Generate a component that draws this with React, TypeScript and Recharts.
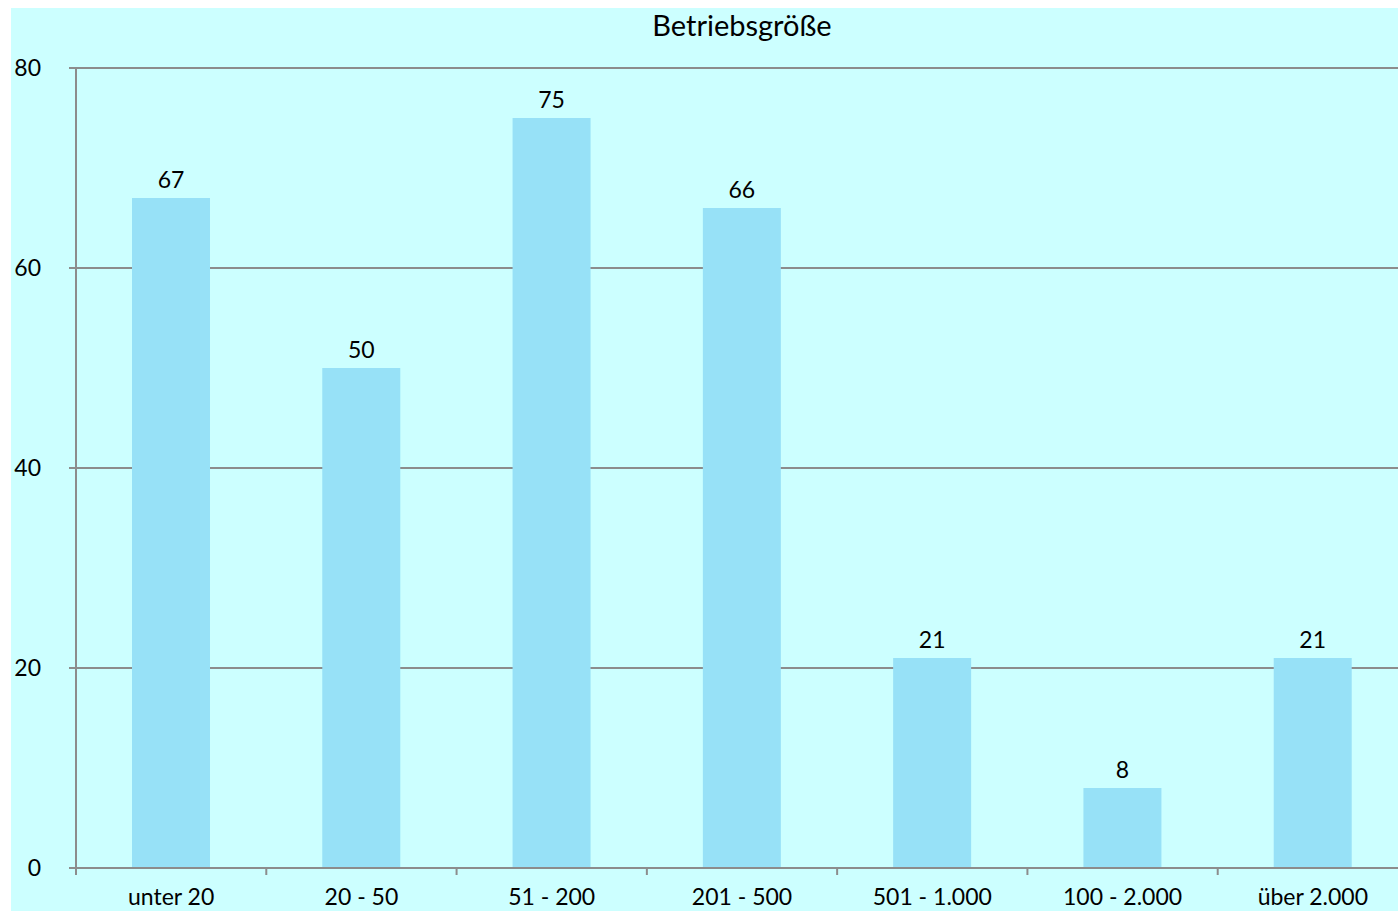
import { BarChart, Bar, XAxis, YAxis, CartesianGrid, LabelList } from 'recharts';

const categories = ['unter 20', '20 - 50', '51 - 200', '201 - 500', '501 - 1.000', '100 - 2.000', 'über 2.000'];
const counts = [67, 50, 75, 66, 21, 8, 21];
const yTicks = [0, 20, 40, 60, 80];
const bandTicks = [0, 1, 2, 3, 4, 5, 6, 7];

const data = categories.map((name, i) => ({ name, value: counts[i], pos: i + 0.5 }));

const font = 'Lato, "Open Sans", sans-serif';
const gray = '#8C8C8C';

export default function App() {
  return (
    <div
      style={{
        position: 'fixed',
        left: 11,
        top: 8,
        width: 1387,
        height: 903,
        overflow: 'hidden',
        background: '#CCFFFF',
        fontFamily: font,
      }}
    >
      <div
        style={{
          position: 'absolute',
          left: 65,
          top: 0,
          width: 1332,
          lineHeight: '34px',
          textAlign: 'center',
          fontSize: 29,
          color: '#000',
        }}
      >
        Betriebsgröße
      </div>
      <BarChart
        width={1400}
        height={903}
        data={data}
        margin={{ top: 60, right: 3, left: 0, bottom: 3 }}
        style={{ position: 'absolute', left: 0, top: 0 }}
      >
        <CartesianGrid vertical={false} stroke={gray} strokeWidth={2} />
        {/* category boundaries get the tick marks, like the spreadsheet original */}
        <XAxis
          xAxisId={0}
          dataKey="pos"
          type="number"
          domain={[0, 7]}
          ticks={bandTicks}
          allowDataOverflow
          height={1}
          axisLine={{ stroke: gray, strokeWidth: 2 }}
          tickLine={{ stroke: gray, strokeWidth: 2 }}
          tickSize={7}
          tickFormatter={() => ''}
        />
        <XAxis
          xAxisId="cat"
          dataKey="name"
          height={39}
          axisLine={false}
          tickLine={false}
          tickSize={0}
          tickMargin={20}
          tick={{ fill: '#000', fontSize: 23, fontFamily: font }}
          interval={0}
        />
        <YAxis
          width={65}
          domain={[0, 80]}
          ticks={yTicks}
          axisLine={{ stroke: gray, strokeWidth: 2 }}
          tickLine={{ stroke: gray, strokeWidth: 2 }}
          tickSize={7}
          tickMargin={28}
          tick={{ fill: '#000', fontSize: 23, fontFamily: font }}
        />
        <Bar xAxisId="cat" dataKey="value" fill="#97E1F7" barSize={78} isAnimationActive={false}>
          <LabelList dataKey="value" position="top" offset={10} fill="#000" fontSize={23} fontFamily={font} />
        </Bar>
      </BarChart>
    </div>
  );
}
